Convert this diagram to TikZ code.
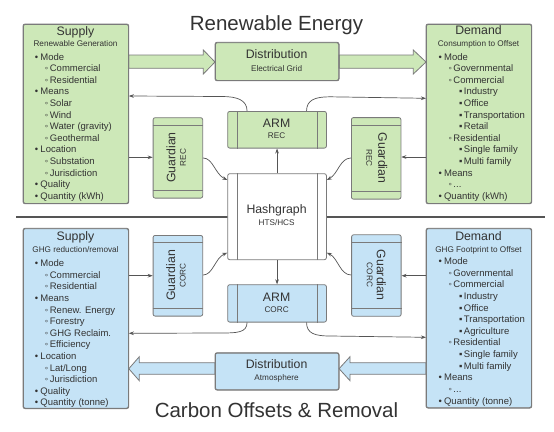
\documentclass[tikz,border=0pt]{standalone}
\usepackage{fontspec}
\setmainfont{Liberation Sans}
\usetikzlibrary{arrows.meta}
\definecolor{gfill}{HTML}{CDE8B8}
\definecolor{bfill}{HTML}{C5E3F6}
\definecolor{edge}{HTML}{7A7A7A}
\definecolor{ink}{HTML}{333333}
\definecolor{conncol}{HTML}{555555}
\newcommand\itemA[1]{\makebox[5.6pt][l]{•}#1}
\newcommand\itemB[1]{\hspace*{10pt}\makebox[5pt][l]{◦}#1}
\newcommand\itemC[1]{\hspace*{20.7pt}\makebox[4.8pt][l]{▪}#1}
\tikzset{
 box/.style={draw=edge, line width=0.8pt, rounded corners=2pt, inner sep=0pt, anchor=north west},
 gbox/.style={box, fill=gfill},
 bbox/.style={box, fill=bfill},
 wbox/.style={box, fill=white},
 conn/.style={draw=conncol, line width=0.7pt, -{Stealth[length=5pt,width=3.6pt]}},
 big/.style={draw=edge, line width=0.8pt, line join=miter},
 txt/.style={inner sep=0pt, text=ink, anchor=base},
 head/.style={txt, font=\fontsize{12.3}{14}\selectfont},
 sub/.style={txt, font=\fontsize{8.2}{10}\selectfont},
 item/.style={txt, anchor=base west, font=\fontsize{9.5}{11}\selectfont},
 title/.style={txt, font=\fontsize{20.5}{24}\selectfont},
 rhead/.style={inner sep=0pt, text=ink, font=\fontsize{12.3}{14}\selectfont},
 rsub/.style={inner sep=0pt, text=ink, font=\fontsize{8.2}{10}\selectfont},
 sepline/.style={draw=conncol, line width=2pt},
 inner/.style={draw=edge, line width=0.8pt},
}
\begin{document}
\begin{tikzpicture}[x=1pt,y=-1pt]
\useasboundingbox (0,0) rectangle (554,431);
\fill[white] (0,0) rectangle (554,431);

% titles
\node[title] (t1) at (276.5,30) {Renewable Energy};
\node[title] (t2) at (276.5,417.3) {Carbon Offsets \& Removal};

% separator
\coordinate (sepL) at (16,216.5);
\coordinate (sepR) at (545,216.5);
\draw[sepline] (sepL) -- (sepR);

% boxes
\node[gbox, minimum width=105pt, minimum height=179pt] (sup1) at (23,24) {};
\node[gbox, minimum width=105pt, minimum height=179pt] (dem1) at (426,24) {};
\node[bbox, minimum width=105pt, minimum height=179.5pt] (sup2) at (23,228.3) {};
\node[bbox, minimum width=105pt, minimum height=179pt] (dem2) at (426,228.3) {};

\node[gbox, minimum width=123.3pt, minimum height=37.7pt] (dist1) at (215,42.3) {};
\node[bbox, minimum width=123.3pt, minimum height=36.6pt] (dist2) at (215,352.7) {};

% big arrows
\draw[big, fill=gfill] (sup1.east |- 0,55) -- (203.3,55) -- (203.3,50) -- (dist1.west |- 0,62) -- (203.3,74) -- (203.3,68.3) -- (sup1.east |- 0,68.3) -- cycle;
\draw[big, fill=gfill] (dist1.east |- 0,55) -- (413.3,55) -- (413.3,50) -- (dem1.west |- 0,62) -- (413.3,74) -- (413.3,68.3) -- (dist1.east |- 0,68.3) -- cycle;
\draw[big, fill=bfill] (dem2.west |- 0,362.7) -- (350,362.7) -- (350,356.7) -- (dist2.east |- 0,368.7) -- (350,380.7) -- (350,374.3) -- (dem2.west |- 0,374.3) -- cycle;
\draw[big, fill=bfill] (dist2.west |- 0,362.7) -- (139.3,362.7) -- (139.3,356.7) -- (sup2.east |- 0,368.7) -- (139.3,380.7) -- (139.3,374.3) -- (dist2.west |- 0,374.3) -- cycle;

% redraw box outlines on top of arrow ends
\draw[inner, rounded corners=2pt] (sup1.north west) rectangle (sup1.south east);
\draw[inner, rounded corners=2pt] (dem1.north west) rectangle (dem1.south east);
\draw[inner, rounded corners=2pt] (sup2.north west) rectangle (sup2.south east);
\draw[inner, rounded corners=2pt] (dem2.north west) rectangle (dem2.south east);
\draw[inner, rounded corners=2pt] (dist1.north west) rectangle (dist1.south east);
\draw[inner, rounded corners=2pt] (dist2.north west) rectangle (dist2.south east);

% ARM and hashgraph
\node[gbox, minimum width=98.7pt, minimum height=36.7pt] (arm1) at (227.3,111) {};
\node[bbox, minimum width=98.7pt, minimum height=37.4pt] (arm2) at (227.3,284.3) {};
\node[wbox, minimum width=98.7pt, minimum height=86pt] (hash) at (227.3,173.3) {};
\foreach \n in {arm1,arm2,hash}{
  \draw[inner] ([xshift=10.4pt]\n.north west) -- ([xshift=10.4pt]\n.south west);
  \draw[inner] ([xshift=-9.6pt]\n.north east) -- ([xshift=-9.6pt]\n.south east);
}

% guardians
\node[gbox, minimum width=49.6pt, minimum height=80.4pt] (g1) at (152.7,117.3) {};
\node[gbox, minimum width=49.5pt, minimum height=81.5pt] (g2) at (351,117.2) {};
\node[bbox, minimum width=49.6pt, minimum height=80.7pt] (g3) at (152.7,235) {};
\node[bbox, minimum width=49.5pt, minimum height=81.5pt] (g4) at (351.2,234.4) {};
\foreach \n in {g1,g2,g3,g4}{
  \draw[inner] ([yshift=-7.8pt]\n.north west) -- ([yshift=-7.8pt]\n.north east);
  \draw[inner] ([yshift=8pt]\n.south west) -- ([yshift=8pt]\n.south east);
}

% box texts
\node[head] (s1h) at (75.5,35) {Supply};
\node[sub] (s1s) at (75.5,46.5) {Renewable Generation};
\node[head] (d1h) at (478.5,34.5) {Demand};
\node[sub] (d1s) at (478.5,46) {Consumption to Offset};
\node[head] (s2h) at (75.5,240.2) {Supply};
\node[sub] (s2s) at (75.5,252) {GHG reduction/removal};
\node[head] (d2h) at (478.5,240.2) {Demand};
\node[sub] (d2s) at (478.5,252.2) {GHG Footprint to Offset};

\node[head] (dt1) at (276.6,58.4) {Distribution};
\node[sub] (dt1s) at (276.6,71.3) {Electrical Grid};
\node[head] (dt2) at (276.6,368.7) {Distribution};
\node[sub] (dt2s) at (276.6,380.8) {Atmosphere};

\node[head] (a1t) at (276.6,127.4) {ARM};
\node[sub] (a1s) at (276.6,138.7) {REC};
\node[head] (a2t) at (276.6,301.1) {ARM};
\node[sub] (a2s) at (276.6,312.4) {CORC};
\node[head] (ht) at (276.6,213.7) {Hashgraph};
\node[sub] (hs) at (276.6,225.3) {HTS/HCS};

\node[rhead, rotate=90] (g1t) at (171,157.5) {Guardian};
\node[rsub, rotate=90] (g1s) at (183,157.5) {REC};
\node[rhead, rotate=-90] (g2t) at (382.7,158) {Guardian};
\node[rsub, rotate=-90] (g2s) at (369.3,158) {REC};
\node[rhead, rotate=90] (g3t) at (170.7,275.3) {Guardian};
\node[rsub, rotate=90] (g3s) at (182.7,275.3) {CORC};
\node[rhead, rotate=-90] (g4t) at (381.3,275) {Guardian};
\node[rsub, rotate=-90] (g4s) at (369.7,275) {CORC};

% lists
\foreach \t [count=\i] in {\itemA{Mode},\itemB{Commercial},\itemB{Residential},\itemA{Means},\itemB{Solar},\itemB{Wind},\itemB{Water (gravity)},\itemB{Geothermal},\itemA{Location},\itemB{Substation},\itemB{Jurisdiction},\itemA{Quality},\itemA{Quantity (kWh)}}
  \node[item] (la\i) at (34.7,48.5+11.6*\i) {\t};
\foreach \t [count=\i] in {\itemA{Mode},\itemB{Governmental},\itemB{Commercial},\itemC{Industry},\itemC{Office},\itemC{Transportation},\itemC{Retail},\itemB{Residential},\itemC{Single family},\itemC{Multi family},\itemA{Means},\itemB{...},\itemA{Quantity (kWh)}}
  \node[item] (lb\i) at (438.3,48.5+11.6*\i) {\t};
\foreach \t [count=\i] in {\itemA{Mode},\itemB{Commercial},\itemB{Residential},\itemA{Means},\itemB{Renew. Energy},\itemB{Forestry},\itemB{GHG Reclaim.},\itemB{Efficiency},\itemA{Location},\itemB{Lat/Long},\itemB{Jurisdiction},\itemA{Quality},\itemA{Quantity (tonne)}}
  \node[item] (lc\i) at (34.7,255.1+11.6*\i) {\t};
\foreach \t [count=\i] in {\itemA{Mode},\itemB{Governmental},\itemB{Commercial},\itemC{Industry},\itemC{Office},\itemC{Transportation},\itemC{Agriculture},\itemB{Residential},\itemC{Single family},\itemC{Multi family},\itemA{Means},\itemB{...},\itemA{Quantity (tonne)}}
  \node[item] (ld\i) at (438.3,252.8+11.64*\i) {\t};

% connectors
\draw[conn] ([xshift=-30pt]arm1.north) .. controls +(0,-11) and +(15,0) .. (222,96.5) -- (sup1.east |- 0,96);
\draw[conn] ([xshift=29.5pt]arm1.north) .. controls +(0,-11) and +(-15,0) .. (330,96.8) -- (dem1.west |- 0,98.3);
\draw[conn] (sup1.east |- 0,157.3) -- (g1.west |- 0,157.3);
\draw[conn] (dem1.west |- 0,157) -- (g2.east |- 0,157);
\draw[conn] (g1.east |- 0,158) .. controls (213,158) and (215,174) .. (hash.west |- 0,180);
\draw[conn] (g2.west |- 0,158) .. controls (340,158) and (338,174) .. (hash.east |- 0,180);
\draw[conn] (hash.north) -- (arm1.south);
\draw[conn] (hash.south) -- (arm2.north);
\draw[conn] (sup2.east |- 0,275.7) -- (g3.west |- 0,275.7);
\draw[conn] (dem2.west |- 0,275.7) -- (g4.east |- 0,275.7);
\draw[conn] (g3.east |- 0,275) .. controls (213,275) and (215,258) .. (hash.west |- 0,252.7);
\draw[conn] (g4.west |- 0,275) .. controls (340,275) and (338,258) .. (hash.east |- 0,252.7);
\draw[conn] ([xshift=-30pt]arm2.south) .. controls +(0,10) and +(15,0) .. (222,333) -- (sup2.east |- 0,333.3);
\draw[conn] ([xshift=29.5pt]arm2.south) .. controls +(0,11) and +(-15,0) .. (330,336) -- (dem2.west |- 0,337.3);
\end{tikzpicture}
\end{document}
